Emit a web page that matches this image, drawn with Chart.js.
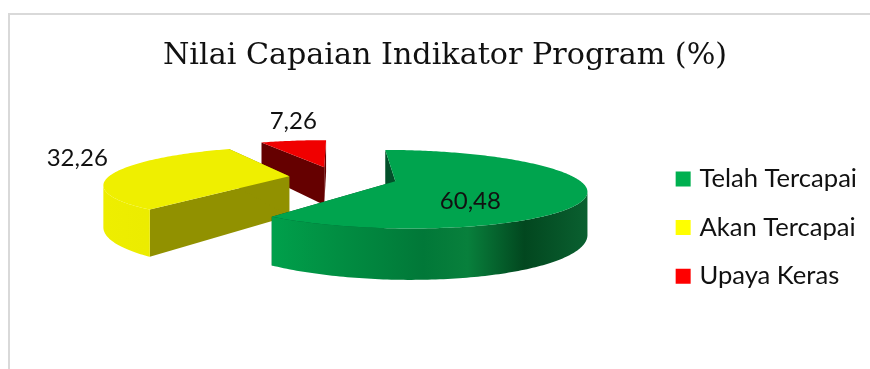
<!DOCTYPE html>
<html>
<head>
<meta charset="utf-8">
<title>Nilai Capaian Indikator Program</title>
<script src="https://cdn.jsdelivr.net/npm/chart.js@4/dist/chart.umd.js"></script>
<style>
  html, body { margin: 0; padding: 0; background: #fff; overflow: hidden; }
  #frame { position: absolute; left: 8px; top: 13px; width: 870px; height: 369px; border-left: 2px solid #d9d9d9; border-top: 2px solid #d9d9d9; }
  #wrap { position: absolute; left: 0; top: 0; width: 870px; height: 369px; }
</style>
</head>
<body>
<div id="frame"></div>
<div id="wrap"><canvas id="chart" width="870" height="369"></canvas></div>
<script>
const chartTitle = "Nilai Capaian Indikator Program (%)";
const categories = ["Telah Tercapai", "Akan Tercapai", "Upaya Keras"];
const values = [60.48, 32.26, 7.26];

const legendColors = ["#00B050", "#FFFF00", "#FF0000"];
const topColors = ["#00A44E", "#EFEF00", "#F00000"];
const cutColors = ["#02502A", "#919100", "#650000"];
const rimStops = [
  [[0, "#00A04B"], [0.16, "#019244"], [0.48, "#017838"], [0.62, "#08803C"], [0.8, "#02471F"], [1, "#0A6030"]],
  [[0, "#EEEE00"], [1, "#E8E800"]],
  [[0, "#650000"], [1, "#650000"]]
];
// where each value label sits, relative to the tip of its slice
const labelShift = [[75, 20], [-212, -18], [-31, -46]];

// simple perspective camera for the tilted pie, units are pie radii
const view = { shiftX: -4, liftY: -50.5, scaleX: 181, scaleZ: 36, persp: 0.2, depth: 40 };
const explode = [0.34, 0.26, 0.3];

function project(o, x, z, down) {
  const w = 1 - view.persp * z;
  return {
    x: o.x + view.shiftX + view.scaleX * x / w,
    y: o.y + view.liftY + (view.scaleZ * z + down * view.depth) / w
  };
}

function sliceGeometry(arc, i) {
  const mid = (arc.startAngle + arc.endAngle) / 2;
  const tx = Math.cos(mid) * explode[i];
  const tz = Math.sin(mid) * explode[i];
  const rim = [];
  const steps = Math.ceil((arc.endAngle - arc.startAngle) / (Math.PI / 180));
  for (let k = 0; k <= steps; k++) {
    const a = arc.startAngle + (arc.endAngle - arc.startAngle) * k / steps;
    rim.push({ x: tx + Math.cos(a), z: tz + Math.sin(a) });
  }
  return { tip: { x: tx, z: tz }, rim };
}

function fillPath(ctx, pts, style) {
  ctx.beginPath();
  pts.forEach((p, i) => (i ? ctx.lineTo(p.x, p.y) : ctx.moveTo(p.x, p.y)));
  ctx.closePath();
  ctx.fillStyle = style;
  ctx.fill();
}

function drawSlice(ctx, arc, i) {
  const geo = sliceGeometry(arc, i);
  const up = geo.rim.map(p => project(arc, p.x, p.z, 0));
  const low = geo.rim.map(p => project(arc, p.x, p.z, 1));
  const tipUp = project(arc, geo.tip.x, geo.tip.z, 0);
  const tipLow = project(arc, geo.tip.x, geo.tip.z, 1);

  // the two cut faces
  [0, up.length - 1].forEach(k => {
    fillPath(ctx, [tipUp, up[k], low[k], tipLow], cutColors[i]);
  });

  // outer wall, only the run that faces the viewer
  const xs = up.map(p => p.x);
  const grad = ctx.createLinearGradient(Math.min(...xs), 0, Math.max(...xs), 0);
  rimStops[i].forEach(s => grad.addColorStop(s[0], s[1]));
  let run = [];
  const flush = () => {
    if (run.length > 1) {
      fillPath(ctx, run.map(k => up[k]).concat(run.slice().reverse().map(k => low[k])), grad);
    }
    run = [];
  };
  for (let k = 0; k < up.length - 1; k++) {
    if (up[k + 1].x < up[k].x) {
      if (!run.length) run.push(k);
      run.push(k + 1);
    } else {
      flush();
    }
  }
  flush();

  fillPath(ctx, [tipUp].concat(up), topColors[i]);
}

const tiltedPie = {
  id: "tiltedPie",
  beforeDatasetDraw(chart, args) {
    const ctx = chart.ctx;
    const arcs = args.meta.data;
    ctx.save();
    for (let i = arcs.length - 1; i >= 0; i--) drawSlice(ctx, arcs[i], i);
    ctx.restore();
    return false;
  },
  afterDatasetsDraw(chart) {
    const ctx = chart.ctx;
    ctx.save();
    ctx.font = "24px Lato";
    ctx.fillStyle = "#111";
    ctx.textAlign = "center";
    ctx.textBaseline = "middle";
    chart.getDatasetMeta(0).data.forEach((arc, i) => {
      const tip = sliceGeometry(arc, i).tip;
      const p = project(arc, tip.x, tip.z, 0);
      ctx.fillText(values[i].toFixed(2).replace(".", ","), p.x + labelShift[i][0], p.y + labelShift[i][1]);
    });
    ctx.restore();
  }
};

new Chart(document.getElementById("chart"), {
  type: "pie",
  data: {
    labels: categories,
    // border only thickens the legend swatch, slices are painted by tiltedPie
    datasets: [{ data: values, backgroundColor: legendColors, borderColor: legendColors, borderWidth: 8 }]
  },
  options: {
    responsive: false,
    animation: false,
    layout: { padding: { left: 23, right: 3 } },
    plugins: {
      title: {
        display: true,
        text: chartTitle,
        color: "#111",
        font: { family: "DejaVu Serif", size: 30.2, weight: "normal" },
        padding: { top: 38, bottom: 12 }
      },
      legend: {
        position: "right",
        fullSize: false,
        labels: {
          boxWidth: 7,
          boxHeight: 7,
          padding: 23,
          color: "#111",
          font: { family: "Lato", size: 25.6 }
        }
      },
      tooltip: { enabled: false }
    }
  },
  plugins: [tiltedPie]
});
</script>
</body>
</html>
